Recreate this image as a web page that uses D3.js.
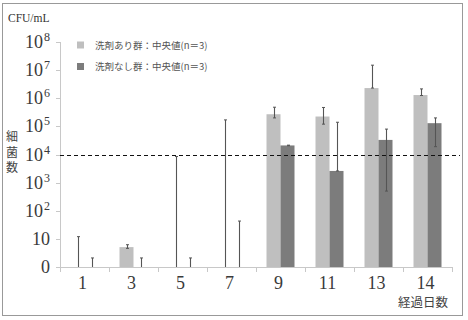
<!DOCTYPE html>
<html><head><meta charset="utf-8">
<script src="https://cdnjs.cloudflare.com/ajax/libs/d3/7.8.5/d3.min.js"></script>
<style>body{margin:0;background:#fff}svg{display:block}</style>
</head><body>
<svg id="c" width="468" height="320"></svg>
<script>
const days = ["1","3","5","7","9","11","13","14"];
const seriesNames = ["洗剤あり群：中央値(n＝3)","洗剤なし群：中央値(n＝3)"];
// medians (0 = no growth)
const withDetergent = [0, 5.1, 0, 0, 270000, 224000, 2300000, 1300000];
const withDetergentHi = [12, 6.2, 8500, 170000, 480000, 470000, 15000000, 2150000];
const withDetergentLo = [0, 4.6, 0, 0, 200000, 120000, 2300000, 1250000];
const withoutDetergent = [0, 0, 0, 0, 21000, 2600, 33000, 130000];
const withoutDetergentHi = [2.1, 2.1, 2.1, 43, 21500, 140000, 80000, 200000];
const withoutDetergentLo = [0, 0, 0, 0, 20500, 2600, 500, 19000];
const threshold = 10000;
const yTicks = [1, 10, 100, 1000, 10000, 100000, 1000000, 10000000, 100000000];
const yTickExp = ["0", "10", "2", "3", "4", "5", "6", "7", "8"];

const svg = d3.select("#c");
const colors = ["#bfbfbf", "#7c7c7c"];
const serif = "Liberation Serif";
const cjk = "Noto Sans CJK JP";

svg.append("rect").attr("x",2.5).attr("y",3.5).attr("width",460).attr("height",312)
  .attr("fill","none").attr("stroke","#999").attr("stroke-width",1);

const x = d3.scaleBand().domain(days).range([60, 452]).paddingInner(0).paddingOuter(0);
const y = d3.scaleLog().domain([1, 1e8]).range([267, 42]).clamp(true);
const barW = 14;
const yv = v => y(Math.max(v, 1));

// axes
svg.append("line").attr("x1",60.5).attr("x2",60.5).attr("y1",42).attr("y2",267).attr("stroke","#c8c8c8");
svg.selectAll(".yt").data(yTicks).join("line")
  .attr("x1",56).attr("x2",60).attr("y1",d=>Math.round(y(d))+0.5).attr("y2",d=>Math.round(y(d))+0.5).attr("stroke","#c8c8c8");
svg.append("line").attr("x1",60).attr("x2",452).attr("y1",267.5).attr("y2",267.5).attr("stroke","#c8c8c8");
const edges = days.map(d=>x(d)).concat([x(days[days.length-1]) + x.bandwidth()]);
svg.selectAll(".xt").data(edges).join("line")
  .attr("x1",d=>Math.round(d)+0.5).attr("x2",d=>Math.round(d)+0.5).attr("y1",267).attr("y2",272).attr("stroke","#c8c8c8");

// y tick labels
const yl = svg.selectAll(".yl").data(yTicks).join("text")
  .attr("x", 50).attr("y", d=>y(d)+6).attr("text-anchor","end")
  .style("font-family", serif).attr("font-size", 18).attr("fill","#3a3a3a");
yl.each(function(d,i){
  const t = d3.select(this);
  if (i===0) { t.text("0"); }
  else if (i===1) { t.text("10"); }
  else { t.append("tspan").text("10"); t.append("tspan").attr("dx",1).attr("dy",-7).attr("font-size",12).text(yTickExp[i]); }
});

// x labels
svg.selectAll(".xl").data(days).join("text")
  .attr("x", d=>x(d)+x.bandwidth()/2 - 2).attr("y", 289).attr("text-anchor","middle")
  .style("font-family", serif).attr("font-size", 18).attr("fill","#3a3a3a").text(d=>d);

// bars
const groups = [
  {v: withDetergent, hi: withDetergentHi, lo: withDetergentLo, off: -barW, c: colors[0]},
  {v: withoutDetergent, hi: withoutDetergentHi, lo: withoutDetergentLo, off: 0, c: colors[1]}
];
groups.forEach(g=>{
  svg.append("g").selectAll("rect").data(days).join("rect")
    .attr("x", d=>x(d)+x.bandwidth()/2 + g.off)
    .attr("width", barW)
    .attr("y", (d,i)=>yv(g.v[i]))
    .attr("height", (d,i)=>y(1)-yv(g.v[i]))
    .attr("fill", g.c);
});
// dashed threshold line
svg.append("line").attr("x1",60).attr("x2",460).attr("y1",Math.round(y(threshold))+0.5).attr("y2",Math.round(y(threshold))+0.5)
  .attr("stroke","#111").attr("stroke-width",1.2).attr("stroke-dasharray","4,3");
// error bars
groups.forEach(g=>{
  const eg = svg.append("g");
  days.forEach((d,i)=>{
    const cx = Math.round(x(d)+x.bandwidth()/2 + g.off + barW/2)+0.5;
    const yh = yv(g.hi[i]), yl2 = yv(g.lo[i]);
    eg.append("line").attr("x1",cx).attr("x2",cx).attr("y1",yh).attr("y2",yl2).attr("stroke","#555").attr("stroke-width",1.1);
    eg.append("line").attr("x1",cx-1.5).attr("x2",cx+1.5).attr("y1",yh).attr("y2",yh).attr("stroke","#555");
    if (g.lo[i] > 1) eg.append("line").attr("x1",cx-1.5).attr("x2",cx+1.5).attr("y1",yl2).attr("y2",yl2).attr("stroke","#555");
  });
});

// legend
const lg = svg.append("g");
seriesNames.forEach((n,i)=>{
  lg.append("rect").attr("x",77).attr("y",41.5+i*21.5).attr("width",7).attr("height",7).attr("fill",colors[i]);
  lg.append("text").attr("x",95).attr("y",48.5+i*21.5).style("font-family",cjk).attr("font-size",9.5).attr("fill","#555").text(n);
});

// titles
svg.append("text").attr("x",8).attr("y",22).style("font-family",serif).attr("font-size",11.5).attr("fill","#333").text("CFU/mL");
["細","菌","数"].forEach((ch,i)=>{
  svg.append("text").attr("x",12).attr("y",141+i*15.5).attr("text-anchor","middle").style("font-family",cjk).attr("font-size",12).attr("fill","#444").text(ch);
});
svg.append("text").attr("x",448).attr("y",307).attr("text-anchor","end").style("font-family",cjk).attr("font-size",12.5).attr("fill","#444").text("経過日数");
</script>
</body></html>
